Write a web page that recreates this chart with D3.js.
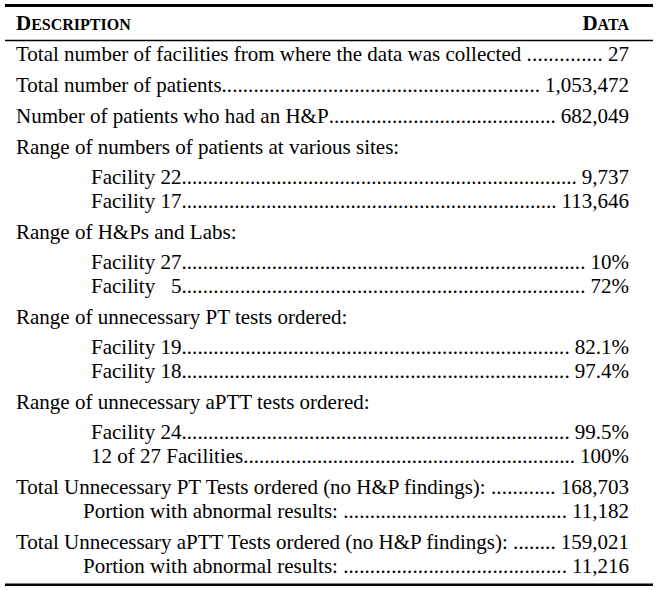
<!DOCTYPE html>
<html>
<head>
<meta charset="utf-8">
<script src="https://cdn.jsdelivr.net/npm/d3@7"></script>
<style>
  html, body { margin: 0; padding: 0; background: #fff; }
  svg { display: block; }
  text { font-family: "Liberation Serif", "Times New Roman", serif; fill: #000; white-space: pre; }
</style>
</head>
<body>
<svg id="table" width="658" height="590"></svg>
<script>
// table content
const headers = ['Description', 'Data'];

const descriptions = [
  'Total number of facilities from where the data was collected ',
  'Total number of patients',
  'Number of patients who had an H&P',
  'Range of numbers of patients at various sites:',
  'Facility 22',
  'Facility 17',
  'Range of H&Ps and Labs:',
  'Facility 27',
  'Facility   5',
  'Range of unnecessary PT tests ordered:',
  'Facility 19',
  'Facility 18',
  'Range of unnecessary aPTT tests ordered:',
  'Facility 24',
  '12 of 27 Facilities',
  'Total Unnecessary PT Tests ordered (no H&P findings): ',
  'Portion with abnormal results: ',
  'Total Unnecessary aPTT Tests ordered (no H&P findings): ',
  'Portion with abnormal results: '
];

const dataValues = [
  '27', '1,053,472', '682,049',
  null, '9,737', '113,646',
  null, '10%', '72%',
  null, '82.1%', '97.4%',
  null, '99.5%', '100%',
  '168,703', '11,182',
  '159,021', '11,216'
];

// 0 = main row, 1 = facility sub row, 2 = "portion" sub row
const indentLevel = [0, 0, 0, 0, 1, 1, 0, 1, 1, 0, 1, 1, 0, 1, 1, 0, 2, 0, 2];

(() => {
  const svg = d3.select('#table');
  const left = 5, right = 653;
  const textRight = 629;
  const fontSize = 21;
  const capSize = 16;

  const xIndent = d3.scaleOrdinal().domain([0, 1, 2]).range([16, 91, 83]);

  // baseline of each row from the row structure
  const baselines = [];
  descriptions.forEach((d, i) => {
    if (i === 0) { baselines.push(61); return; }
    const prev = baselines[i - 1];
    const lvl = indentLevel[i];
    const prevLvl = indentLevel[i - 1];
    let step;
    if (lvl === 0) step = 31;
    else if (prevLvl > 0) step = 24;
    else if (dataValues[i - 1] === null) step = 30;
    else step = 24;
    baselines.push(prev + step);
  });

  // rules
  const rules = [
    { y: 5.5, w: 3 },
    { y: 40.5, w: 1.6 },
    { y: 584.8, w: 2.6 }
  ];
  svg.append('g').selectAll('line')
    .data(rules)
    .join('line')
    .attr('x1', left).attr('x2', right)
    .attr('y1', d => d.y).attr('y2', d => d.y)
    .attr('stroke', '#000')
    .attr('stroke-width', d => d.w);

  // header in small caps
  const head = svg.append('g').attr('font-weight', 'bold');
  const smallCaps = (sel, word) => {
    sel.append('tspan').attr('font-size', fontSize).text(word[0].toUpperCase());
    sel.append('tspan').attr('font-size', capSize).text(word.slice(1).toUpperCase());
  };
  head.append('text').attr('x', xIndent(0)).attr('y', 30)
    .call(smallCaps, headers[0]);
  head.append('text').attr('x', textRight).attr('y', 30)
    .attr('text-anchor', 'end')
    .call(smallCaps, headers[1]);

  // body rows
  const body = svg.append('g').attr('font-size', fontSize);

  const dotProbe = body.append('text').text('..........');
  const dotW = dotProbe.node().getComputedTextLength() / 10;
  dotProbe.remove();

  const rows = body.selectAll('g.row')
    .data(descriptions.map((d, i) => ({ label: d, value: dataValues[i], lvl: indentLevel[i], y: baselines[i] })))
    .join('g')
    .attr('class', 'row');

  rows.append('text')
    .attr('class', 'label')
    .attr('x', d => xIndent(d.lvl))
    .attr('y', d => d.y)
    .text(d => d.label);

  rows.filter(d => d.value !== null).each(function(d) {
    const g = d3.select(this);
    const labelW = g.select('.label').node().getComputedTextLength();
    const val = g.append('text')
      .attr('x', textRight)
      .attr('y', d.y)
      .attr('text-anchor', 'end')
      .text(d.value);
    const valStart = textRight - val.node().getComputedTextLength() - 5;
    const labelEnd = xIndent(d.lvl) + labelW;
    const n = Math.max(0, Math.floor((valStart - labelEnd) / dotW));
    // spread the dots so the leader fills the gap
    const spread = n > 1 ? (valStart - labelEnd - n * dotW) / n : 0;
    g.append('text')
      .attr('x', valStart)
      .attr('y', d.y)
      .attr('text-anchor', 'end')
      .attr('letter-spacing', Math.min(spread, 0.6))
      .text('.'.repeat(n));
  });
})();
</script>
</body>
</html>
